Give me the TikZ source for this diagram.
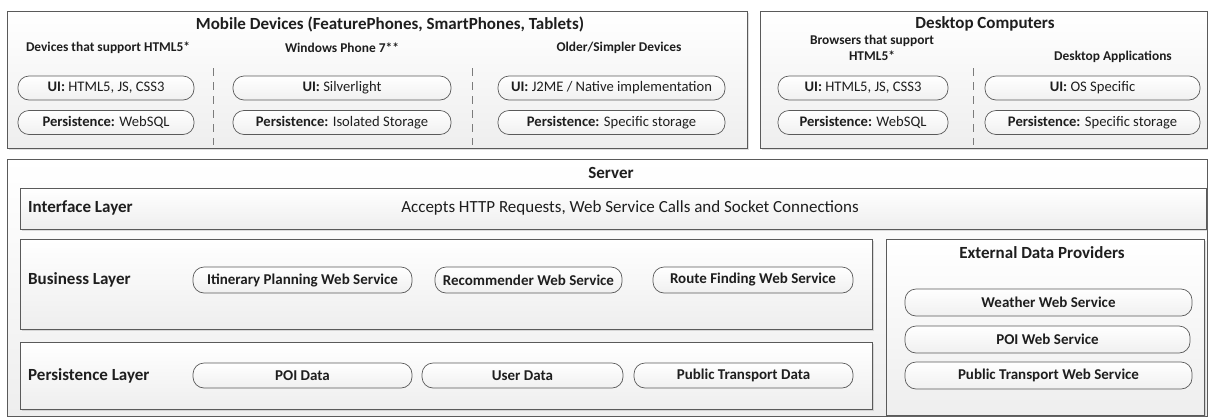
\documentclass[tikz,border=0pt]{standalone}
\usepackage{fontspec}
\setmainfont{Carlito}
\usetikzlibrary{shadows}
\definecolor{edgecol}{HTML}{5A5A5A}
\definecolor{boxbot}{HTML}{EEEEEE}
\definecolor{pillbot}{HTML}{F0F0F0}
\definecolor{txt}{HTML}{1E1E1E}
\newcommand\myTitle{\fontsize{17}{20}\selectfont\bfseries}
\newcommand\mySub{\fontsize{13.4}{16}\selectfont\bfseries}
\newcommand\myPill{\fontsize{14.6}{17}\selectfont}
\newcommand\myAcc{\fontsize{17}{20}\selectfont}
\newcommand\mySPill{\fontsize{15}{18}\selectfont\bfseries}
\newcommand\myLayer{\fontsize{17}{20}\selectfont\bfseries}
\begin{document}
\begin{tikzpicture}[x=1pt,y=-1pt,
  panel/.style={draw=edgecol, line width=0.8pt, top color=white, bottom color=boxbot,
    inner sep=0pt, anchor=north west, drop shadow={shadow xshift=1.5pt, shadow yshift=-1.5pt, opacity=0.25}},
  pill/.style={draw=edgecol, line width=0.7pt, rounded corners=11pt, top color=white, bottom color=pillbot,
    inner sep=0pt, text=txt, font=\myPill},
  spill/.style={pill, font=\mySPill},
  lbl/.style={inner sep=0pt, text=txt},
  sep/.style={draw=edgecol!80, line width=0.7pt, dash pattern=on 8pt off 6pt}
]
\useasboundingbox (0,0) rectangle (1208,416);

% ---------- Mobile devices ----------
\node[panel, minimum width=740pt, minimum height=137pt] (mob) at (7,11) {};
\node[lbl, font=\myTitle] (mobt) at (390,24) {Mobile Devices (FeaturePhones, SmartPhones, Tablets)};
\node[lbl, font=\mySub] (mob1t) at (108,48) {Devices that support HTML5*};
\node[lbl, font=\mySub] (mob2t) at (342,48) {Windows Phone 7**};
\node[lbl, font=\mySub] (mob3t) at (619,48) {Older/Simpler Devices};
\node[pill, minimum width=176pt, minimum height=24pt] (m1u) at (106,88) {{\bfseries UI:} HTML5, JS, CSS3};
\node[pill, minimum width=176pt, minimum height=24pt] (m1p) at (106,122.5) {{\bfseries Persistence:} WebSQL};
\node[pill, minimum width=218pt, minimum height=24pt] (m2u) at (342,88) {{\bfseries UI:} Silverlight};
\node[pill, minimum width=218pt, minimum height=24pt] (m2p) at (342,122.5) {{\bfseries Persistence:} Isolated Storage};
\node[pill, minimum width=227pt, minimum height=24pt] (m3u) at (611.5,88) {{\bfseries UI:} J2ME / Native implementation};
\node[pill, minimum width=227pt, minimum height=24pt] (m3p) at (611.5,122.5) {{\bfseries Persistence:} Specific storage};
\coordinate (s1a) at (213,68); \coordinate (s1b) at (213,145);
\coordinate (s2a) at (472,68); \coordinate (s2b) at (472,145);
\draw[sep] (s1a) -- (s1b);
\draw[sep] (s2a) -- (s2b);

% ---------- Desktop computers ----------
\node[panel, minimum width=447pt, minimum height=137pt] (desk) at (760,11) {};
\node[lbl, font=\myTitle] (deskt) at (985,24) {Desktop Computers};
\node[lbl, font=\mySub, align=center] (desk1t) at (872,48) {Browsers that support\\HTML5*};
\node[lbl, font=\mySub] (desk2t) at (1113,57) {Desktop Applications};
\node[pill, minimum width=170pt, minimum height=24pt] (d1u) at (863,88) {{\bfseries UI:} HTML5, JS, CSS3};
\node[pill, minimum width=170pt, minimum height=24pt] (d1p) at (863,122.5) {{\bfseries Persistence:} WebSQL};
\node[pill, minimum width=215pt, minimum height=24pt] (d2u) at (1092.5,88) {{\bfseries UI:} OS Specific};
\node[pill, minimum width=215pt, minimum height=24pt] (d2p) at (1092.5,122.5) {{\bfseries Persistence:} Specific storage};
\coordinate (s3a) at (973,68); \coordinate (s3b) at (973,145);
\draw[sep] (s3a) -- (s3b);

% ---------- Server ----------
\node[panel, minimum width=1200pt, minimum height=257pt] (srv) at (7,159) {};
\node[lbl, font=\myTitle] (srvt) at (611,173) {Server};

\node[panel, minimum width=1186pt, minimum height=41pt] (iface) at (20,188) {};
\node[lbl, font=\myLayer, anchor=west] (ifacet) at (28,208) {Interface Layer};
\node[lbl, font=\myAcc] (ifaced) at (630,208) {Accepts HTTP Requests, Web Service Calls and Socket Connections};

\node[panel, minimum width=852pt, minimum height=90pt] (bus) at (20,239) {};
\node[lbl, font=\myLayer, anchor=west] (bust) at (28,280) {Business Layer};
\node[spill, minimum width=219pt, minimum height=26pt] (itin) at (302.5,280) {Itinerary Planning Web Service};
\node[spill, minimum width=187pt, minimum height=26pt] (reco) at (528.5,280) {Recommender Web Service};
\node[spill, minimum width=200pt, minimum height=26pt] (route) at (753,280) {Route Finding Web Service};

\node[panel, minimum width=852pt, minimum height=67pt] (pers) at (20,342) {};
\node[lbl, font=\myLayer, anchor=west] (perst) at (28,375.5) {Persistence Layer};
\node[spill, minimum width=219pt, minimum height=25pt] (poid) at (302.5,375.5) {POI Data};
\node[spill, minimum width=201pt, minimum height=25pt] (userd) at (522.5,375.5) {User Data};
\node[spill, minimum width=219pt, minimum height=25pt] (ptd) at (743.5,375.5) {Public Transport Data};

\node[panel, minimum width=318pt, minimum height=176pt] (ext) at (886,239) {};
\node[lbl, font=\myTitle] (extt) at (1042,253) {External Data Providers};
\node[spill, minimum width=287pt, minimum height=27pt] (wws) at (1048.5,302.5) {Weather Web Service};
\node[spill, minimum width=285pt, minimum height=27pt] (pws) at (1047.5,339.5) {POI Web Service};
\node[spill, minimum width=287pt, minimum height=27pt] (ptws) at (1048.5,375.5) {Public Transport Web Service};
\end{tikzpicture}
\end{document}
